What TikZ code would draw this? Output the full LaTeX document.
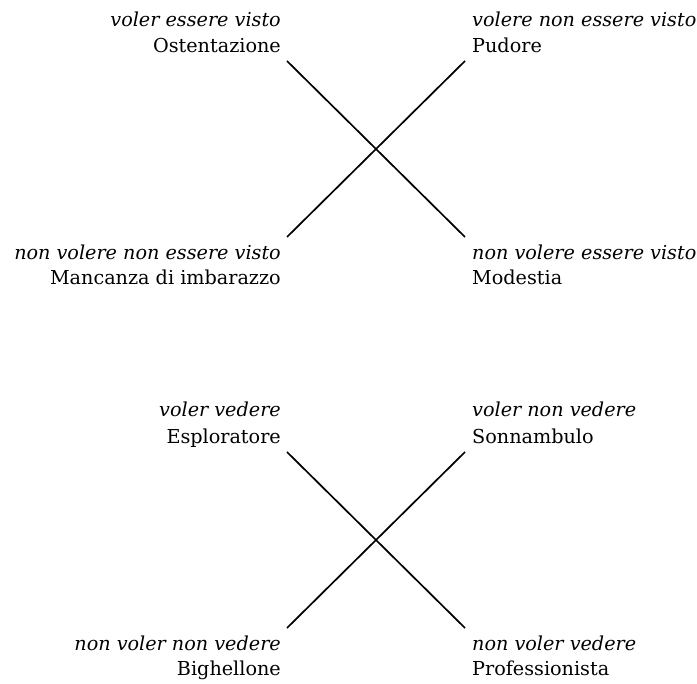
\documentclass[tikz,border=0pt]{standalone}
\usepackage{fontspec}
\setmainfont{DejaVu Serif}
\usetikzlibrary{positioning}

\tikzset{
  role/.style={font=\fontsize{19.2}{23}\selectfont, inner sep=0pt},
  wish/.style={font=\fontsize{19.2}{23}\selectfont\itshape, inner sep=0pt},
  bar/.style={line width=1.7pt, black},
}

\begin{document}
\begin{tikzpicture}[x=1pt,y=-1pt]
  \pgfmathsetmacro{\LeftX}{281}
  \pgfmathsetmacro{\RightX}{472}
  \pgfmathsetmacro{\BarL}{287}
  \pgfmathsetmacro{\BarR}{465}
  \useasboundingbox (0,0) rectangle (697,684);

  % essere visto
  \node[wish, anchor=base east] (ostwish) at (\LeftX,27) {voler essere visto};
  \node[role, anchor=base east] (ostent) at (\LeftX,53) {Ostentazione};
  \node[wish, anchor=base west] (pudwish) at (\RightX,27) {volere non essere visto};
  \node[role, anchor=base west] (pudore) at (\RightX,53) {Pudore};
  \node[wish, anchor=base east] (manwish) at (\LeftX,260) {non volere non essere visto};
  \node[role, anchor=base east] (mancanza) at (\LeftX,285) {Mancanza di imbarazzo};
  \node[wish, anchor=base west] (modwish) at (\RightX,260) {non volere essere visto};
  \node[role, anchor=base west] (modestia) at (\RightX,285) {Modestia};

  \coordinate (ostend) at (\BarL,61);
  \coordinate (pudend) at (\BarR,61);
  \coordinate (manend) at (\BarL,237);
  \coordinate (modend) at (\BarR,237);
  \draw[bar] (ostend) -- (modend);
  \draw[bar] (pudend) -- (manend);

  % vedere
  \node[wish, anchor=base east] (espwish) at (\LeftX,417) {voler vedere};
  \node[role, anchor=base east] (esplor) at (\LeftX,444) {Esploratore};
  \node[wish, anchor=base west] (sonwish) at (\RightX,417) {voler non vedere};
  \node[role, anchor=base west] (sonnamb) at (\RightX,444) {Sonnambulo};
  \node[wish, anchor=base east] (bigwish) at (\LeftX,651) {non voler non vedere};
  \node[role, anchor=base east] (bighel) at (\LeftX,676) {Bighellone};
  \node[wish, anchor=base west] (prowish) at (\RightX,651) {non voler vedere};
  \node[role, anchor=base west] (profess) at (\RightX,676) {Professionista};

  \coordinate (espend) at (\BarL,452);
  \coordinate (sonend) at (\BarR,452);
  \coordinate (bigend) at (\BarL,628);
  \coordinate (proend) at (\BarR,628);
  \draw[bar] (espend) -- (proend);
  \draw[bar] (sonend) -- (bigend);
\end{tikzpicture}
\end{document}
